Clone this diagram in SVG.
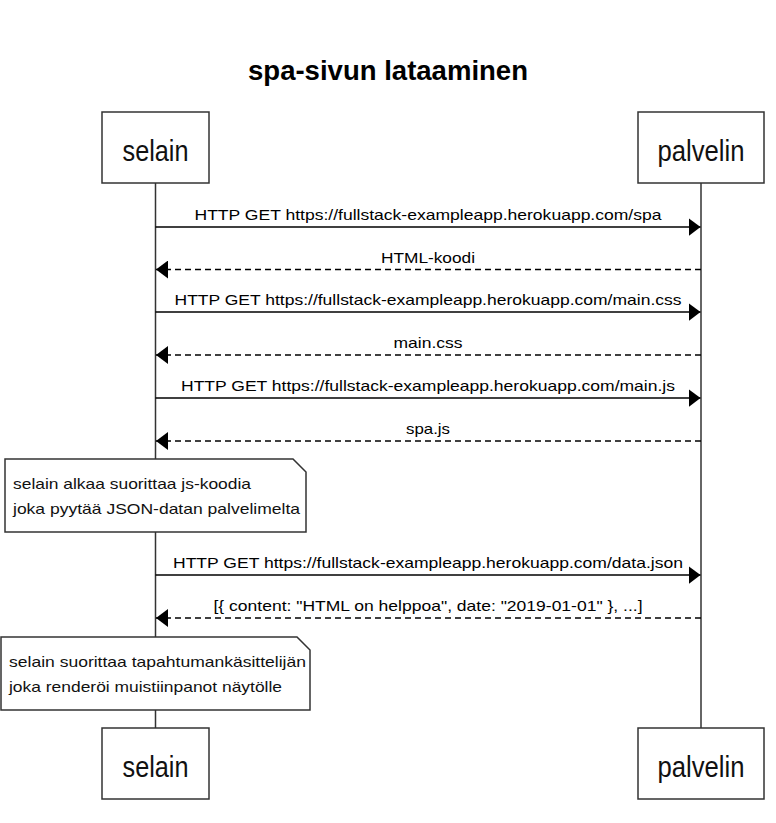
<svg xmlns="http://www.w3.org/2000/svg" width="776" height="823" viewBox="0 0 776 823">
<style>
text{font-family:"Liberation Sans",Arial,sans-serif;fill:#000}
.title{font-size:27px;font-weight:bold;text-anchor:middle}
.actor rect{fill:#fff;stroke:#333;stroke-width:1.5}
.actor text{font-size:30px;text-anchor:middle;fill:#111}
.life{stroke:#333;stroke-width:1.5;fill:none}
.msg{stroke:#000;stroke-width:1.3;fill:none;marker-end:url(#arr)}
.dash{stroke-dasharray:6 4}
.lbl{font-size:15px;text-anchor:middle}
.note path{fill:#fff;stroke:#333;stroke-width:1.5}
.note text{font-size:15px;fill:#111}
</style>
<defs>
<marker id="arr" markerUnits="userSpaceOnUse" markerWidth="12" markerHeight="18" refX="12" refY="9" orient="auto">
<path d="M0,0 L12,9 L0,18 Z" fill="#000"/>
</marker>
</defs>
<rect width="776" height="823" fill="#fff"/>
<text class="title" x="388" y="80" textLength="280" lengthAdjust="spacingAndGlyphs">spa-sivun lataaminen</text>

<g id="lifelines">
<line class="life" x1="155.5" y1="183" x2="155.5" y2="728"/>
<line class="life" x1="701" y1="183" x2="701" y2="728"/>
</g>

<g id="selain-top" class="actor">
<rect x="102" y="112" width="107" height="71"/>
<text x="155.5" y="161" textLength="66" lengthAdjust="spacingAndGlyphs">selain</text>
</g>
<g id="palvelin-top" class="actor">
<rect x="638" y="112" width="126" height="71"/>
<text x="701" y="161" textLength="87" lengthAdjust="spacingAndGlyphs">palvelin</text>
</g>
<g id="selain-bottom" class="actor">
<rect x="102" y="728" width="107" height="71"/>
<text x="155.5" y="777" textLength="66" lengthAdjust="spacingAndGlyphs">selain</text>
</g>
<g id="palvelin-bottom" class="actor">
<rect x="638" y="728" width="126" height="71"/>
<text x="701" y="777" textLength="87" lengthAdjust="spacingAndGlyphs">palvelin</text>
</g>

<g id="connectors">
<line class="msg" x1="155.5" y1="227" x2="700.5" y2="227"/>
<text class="lbl" x="428" y="220" textLength="467" lengthAdjust="spacingAndGlyphs">HTTP GET https://fullstack-exampleapp.herokuapp.com/spa</text>
<line class="msg dash" x1="701" y1="269.5" x2="156" y2="269.5"/>
<text class="lbl" x="428" y="262.5" textLength="94" lengthAdjust="spacingAndGlyphs">HTML-koodi</text>
<line class="msg" x1="155.5" y1="312" x2="700.5" y2="312"/>
<text class="lbl" x="428" y="305" textLength="507" lengthAdjust="spacingAndGlyphs">HTTP GET https://fullstack-exampleapp.herokuapp.com/main.css</text>
<line class="msg dash" x1="701" y1="355" x2="156" y2="355"/>
<text class="lbl" x="428" y="348" textLength="69" lengthAdjust="spacingAndGlyphs">main.css</text>
<line class="msg" x1="155.5" y1="398" x2="700.5" y2="398"/>
<text class="lbl" x="428" y="391" textLength="494" lengthAdjust="spacingAndGlyphs">HTTP GET https://fullstack-exampleapp.herokuapp.com/main.js</text>
<line class="msg dash" x1="701" y1="441" x2="156" y2="441"/>
<text class="lbl" x="428" y="434" textLength="44" lengthAdjust="spacingAndGlyphs">spa.js</text>
<line class="msg" x1="155.5" y1="575" x2="700.5" y2="575"/>
<text class="lbl" x="428" y="568" textLength="510" lengthAdjust="spacingAndGlyphs">HTTP GET https://fullstack-exampleapp.herokuapp.com/data.json</text>
<line class="msg dash" x1="701" y1="618" x2="156" y2="618"/>
<text class="lbl" x="428" y="611" textLength="429" lengthAdjust="spacingAndGlyphs">[{ content: "HTML on helppoa", date: "2019-01-01" }, ...]</text>
</g>

<g id="note1" class="note">
<path d="M5,459 H293 L306,472 V532 H5 Z"/>
<text x="13" y="489" textLength="238" lengthAdjust="spacingAndGlyphs">selain alkaa suorittaa js-koodia</text>
<text x="13" y="514" textLength="287" lengthAdjust="spacingAndGlyphs">joka pyytää JSON-datan palvelimelta</text>
</g>
<g id="note2" class="note">
<path d="M1,637 H297 L310,650 V710 H1 Z"/>
<text x="9" y="667" textLength="297" lengthAdjust="spacingAndGlyphs">selain suorittaa tapahtumankäsittelijän</text>
<text x="9" y="692" textLength="273" lengthAdjust="spacingAndGlyphs">joka renderöi muistiinpanot näytölle</text>
</g>
</svg>
